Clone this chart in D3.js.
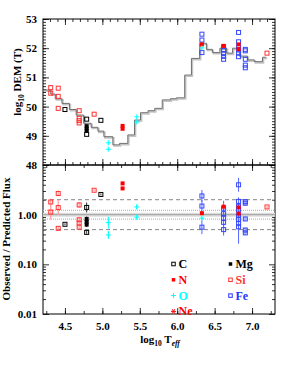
<!DOCTYPE html>
<html><head><meta charset="utf-8">
<script src="https://cdn.jsdelivr.net/npm/d3@7"></script>
<style>
body{margin:0;background:#fff;}
text{font-family:"Liberation Serif",serif;}
</style></head>
<body><svg id="c" width="289" height="372"></svg>
<script>
// ---- DATA ----
const demEdges = [4.21,4.31,4.37,4.46,4.56,4.65,4.75,4.85,4.94,5.02,5.14,5.23,5.34,5.43,5.51,5.61,5.70,5.80,5.91,5.99,6.10,6.19,6.30,6.39,6.47,6.57,6.66,6.74,6.83,6.94,7.03,7.14,7.19];
const demValues = [50.57,50.43,50.27,50.11,49.90,49.71,49.43,49.29,49.16,48.97,48.69,48.74,49.03,49.54,49.79,49.86,49.94,50.23,50.27,50.30,51.08,51.65,52.17,51.96,51.85,52.00,51.83,52.00,51.73,51.60,51.54,51.69];

// top panel: [logT, logDEM]
const siTop = [[4.31,50.65],[4.31,50.46],[4.41,50.63],[4.41,50.35],[4.41,49.94],[4.69,49.86],[4.69,49.60],[4.69,49.52],[4.69,49.44],[4.89,49.74],[7.20,51.83]];
const cTop  = [[4.50,49.90],[4.79,49.57],[4.79,49.05],[4.98,49.53]];
const mgTop = [[4.79,49.33],[4.79,49.25],[4.79,49.17]];
const nTop  = [[5.27,49.34],[5.27,49.24],[6.33,52.13],[6.62,52.08],[6.82,52.13],[6.82,51.97]];
const oTop  = [[5.08,48.76],[5.08,48.54],[5.46,49.65],[5.46,49.47],[6.33,52.01]];
const feTop = [[6.33,52.48],[6.33,52.28],[6.33,51.85],
  [6.62,52.05],[6.62,51.93],[6.62,51.82],[6.62,51.72],[6.62,51.62],
  [6.82,52.54],[6.82,52.22],[6.82,52.05],[6.82,51.94],[6.82,51.83],[6.82,51.71],
  [6.91,51.96],[6.91,51.91],[6.91,51.62],[6.91,51.42],[6.91,51.33]];

// bottom panel: [logT, observed/predicted, log10 error]
const siBot = [[4.31,1.80,0.07],[4.31,1.13,0.15],[4.41,2.67,0.06],[4.41,1.39,0.15],[4.41,0.53,0.03],
  [4.69,1.57,0.06],[4.69,0.79,0.04],[4.69,0.68,0.04],[4.69,0.56,0.03],[4.89,3.10,0.02],[7.20,1.43,0.02]];
const cBot  = [[4.50,0.64,0.02],[4.79,1.40,0.10],[4.79,0.44,0.03],[4.98,2.55,0.02]];
const mgBot = [[4.79,0.82,0.05],[4.79,0.72,0.05],[4.79,0.63,0.05]];
const nBot  = [[5.27,4.26,0.02],[5.27,3.38,0.02],[6.33,1.07,0.02],[6.62,1.45,0.02],[6.82,1.40,0.02],[6.82,1.05,0.02]];
const oBot  = [[5.08,0.69,0.12],[5.08,0.39,0.08],[5.46,1.43,0.05],[5.46,0.89,0.05],[6.33,0.85,0.03]];
const feBot = [[6.33,2.38,0.12],[6.33,1.49,0.12],[6.33,0.56,0.14],
  [6.62,1.35,0.15],[6.62,1.05,0.08],[6.62,0.85,0.08],[6.62,0.70,0.08],[6.62,0.50,0.12],
  [6.82,4.00,0.14],[6.82,1.85,0.08],[6.82,1.48,0.08],[6.82,1.24,0.08],[6.82,0.98,0.08],[6.82,0.80,0.08],[6.82,0.67,0.10],[6.82,0.57,0.34],
  [6.91,1.83,0.05],[6.91,1.70,0.05],[6.91,0.82,0.04],[6.91,0.49,0.05],[6.91,0.43,0.04]];

const xMajor = [4.5,5.0,5.5,6.0,6.5,7.0];
const xMinorTop = d3.range(43,73).map(d=>d/10);
const xMinorBot = d3.range(17,30).map(d=>d/4);
const yTopMajor = [48,49,50,51,52,53];
const yTopMinor = d3.range(480,531).map(d=>d/10);
const yBotMajor = [0.01,0.1,1,10];
const yBotLabels = ["0.01","0.10","1.00",""];
const yBotMinor = [0.02,0.03,0.04,0.05,0.06,0.07,0.08,0.09,0.2,0.3,0.4,0.5,0.6,0.7,0.8,0.9,2,3,4,5,6,7,8,9];
const refDashed = [2,0.5];
const refDotted = [1.22,0.81];

const legendItems = [
  {name:"C", col:0,row:0,color:"#000",sym:"open"},
  {name:"N", col:0,row:1,color:"#f00",sym:"fill"},
  {name:"O", col:0,row:2,color:"#0ff",sym:"plus"},
  {name:"Ne",col:0,row:3,color:"#f00",sym:"star"},
  {name:"Mg",col:1,row:0,color:"#000",sym:"fill"},
  {name:"Si",col:1,row:1,color:"#f33",sym:"open"},
  {name:"Fe",col:1,row:2,color:"#2233ff",sym:"open"}
];

// ---- LAYOUT ----
const L=43, R=275, T=19, M=165, B=314;
const FONT = "Liberation Serif";
const svg = d3.select("#c");
const x = d3.scaleLinear().domain([4.2,7.3]).range([42.5,274.5]);
const yT = d3.scaleLinear().domain([48,53]).range([M,T]);
const yB = d3.scaleLog().domain([0.01,10]).range([B,M]);

function ax(gen, tx, ty){
  const g = svg.append("g").attr("transform",`translate(${tx},${ty})`).call(gen);
  g.select(".domain").remove();
  g.selectAll("line").attr("stroke","#000").attr("stroke-width",0.8);
  g.selectAll("text").attr("font-family",FONT).attr("font-size",11).attr("font-weight","bold").attr("fill","#000");
  return g;
}
// top panel axes
ax(d3.axisBottom(x).tickValues(xMinorTop).tickSize(-3).tickFormat(""),0,M);
ax(d3.axisBottom(x).tickValues(xMajor).tickSize(-6).tickFormat(""),0,M);
ax(d3.axisTop(x).tickValues(xMinorTop).tickSize(-3).tickFormat(""),0,T);
ax(d3.axisTop(x).tickValues(xMajor).tickSize(-6).tickFormat(""),0,T);
ax(d3.axisLeft(yT).tickValues(yTopMinor).tickSize(-3).tickFormat(""),L,0);
ax(d3.axisLeft(yT).tickValues(yTopMajor).tickSize(-6).tickPadding(6).tickFormat(d3.format("d")),L,0);
ax(d3.axisRight(yT).tickValues(yTopMinor).tickSize(-3).tickFormat(""),R,0);
ax(d3.axisRight(yT).tickValues(yTopMajor).tickSize(-6).tickFormat(""),R,0);
// bottom panel axes
ax(d3.axisTop(x).tickValues(xMinorBot).tickSize(-3).tickFormat(""),0,M);
ax(d3.axisTop(x).tickValues(xMajor).tickSize(-6).tickFormat(""),0,M);
ax(d3.axisBottom(x).tickValues(xMinorBot).tickSize(-3).tickFormat(""),0,B);
ax(d3.axisBottom(x).tickValues(xMajor).tickSize(-6).tickPadding(8).tickFormat(d3.format(".1f")),0,B);
ax(d3.axisLeft(yB).tickValues(yBotMinor).tickSize(-3).tickFormat(""),L,0);
ax(d3.axisLeft(yB).tickValues(yBotMajor).tickSize(-6).tickPadding(6).tickFormat((d,i)=>yBotLabels[i]),L,0);
ax(d3.axisRight(yB).tickValues(yBotMinor).tickSize(-3).tickFormat(""),R,0);
ax(d3.axisRight(yB).tickValues(yBotMajor).tickSize(-6).tickFormat(""),R,0);

// frames
svg.append("rect").attr("x",L).attr("y",T).attr("width",R-L).attr("height",M-T).attr("fill","none").attr("stroke","#000").attr("stroke-width",1);
svg.append("rect").attr("x",L).attr("y",M).attr("width",R-L).attr("height",B-M).attr("fill","none").attr("stroke","#000").attr("stroke-width",1);

// DEM step
const demPts = demValues.map((v,i)=>[demEdges[i],v]);
demPts.push([demEdges[demEdges.length-1], demValues[demValues.length-1]]);
const stepLine = d3.line().x(d=>x(d[0])).y(d=>yT(d[1])).curve(d3.curveStepAfter);
svg.append("path").attr("d",stepLine(demPts)).attr("fill","none").attr("stroke","#c4c4c4").attr("stroke-width",1.6).attr("transform","translate(1,1.2)");
svg.append("path").attr("d",stepLine(demPts)).attr("fill","none").attr("stroke","#6e6e6e").attr("stroke-width",1);

// reference lines (bottom)
const gRef = svg.append("g");
gRef.append("line").attr("x1",L).attr("x2",R).attr("y1",yB(1)).attr("y2",yB(1)).attr("stroke","#dcdcdc").attr("stroke-width",4);
gRef.append("line").attr("x1",L).attr("x2",R).attr("y1",yB(1)).attr("y2",yB(1)).attr("stroke","#a0a0a0").attr("stroke-width",1);
refDotted.forEach(v=>gRef.append("line").attr("x1",L).attr("x2",R).attr("y1",yB(v)).attr("y2",yB(v)).attr("stroke","#bbb").attr("stroke-width",1.2).attr("stroke-dasharray","1,1"));
refDashed.forEach(v=>gRef.append("line").attr("x1",L).attr("x2",R).attr("y1",yB(v)).attr("y2",yB(v)).attr("stroke","#777").attr("stroke-width",0.9).attr("stroke-dasharray","4,3"));

// marker drawing
function marker(g, sym, cx, cy, color, s){
  s = s||4;
  if(sym==="open") g.append("rect").attr("x",cx-s/2).attr("y",cy-s/2).attr("width",s).attr("height",s).attr("fill","none").attr("stroke",color).attr("stroke-width",1);
  else if(sym==="fill") g.append("rect").attr("x",cx-s/2).attr("y",cy-s/2).attr("width",s).attr("height",s).attr("fill",color);
  else if(sym==="plus"){
    g.append("line").attr("x1",cx-2.5).attr("x2",cx+2.5).attr("y1",cy).attr("y2",cy).attr("stroke",color).attr("stroke-width",1);
    g.append("line").attr("x1",cx).attr("x2",cx).attr("y1",cy-2.5).attr("y2",cy+2.5).attr("stroke",color).attr("stroke-width",1);
  } else if(sym==="star"){
    [0,60,120].forEach(a=>{const r=a*Math.PI/180;
      g.append("line").attr("x1",cx-2.5*Math.cos(r)).attr("x2",cx+2.5*Math.cos(r)).attr("y1",cy-2.5*Math.sin(r)).attr("y2",cy+2.5*Math.sin(r)).attr("stroke",color).attr("stroke-width",1);});
  }
}
const gTop = svg.append("g");
function topSeries(data, sym, color){ data.forEach(d=>marker(gTop,sym,x(d[0]),yT(d[1]),color)); }
topSeries(cTop,"open","#000");
topSeries(mgTop,"fill","#000");
topSeries(siTop,"open","#f33");
topSeries(feTop,"open","#3346ff");
topSeries(nTop,"fill","#f00");
topSeries(oTop,"plus","#0ff");

const gBot = svg.append("g");
function botSeries(data, sym, color, ecolor, ew){
  data.forEach(d=>{
    const cx=x(d[0]);
    gBot.append("line").attr("x1",cx).attr("x2",cx)
      .attr("y1",yB(d[1]*Math.pow(10,d[2]))).attr("y2",yB(d[1]/Math.pow(10,d[2])))
      .attr("stroke",ecolor).attr("stroke-width",ew||1);
  });
  data.forEach(d=>marker(gBot,sym,x(d[0]),yB(d[1]),color));
}
botSeries(feBot.filter(d=>d[0]<6.9),"open","#3346ff","#5566ff",1);
botSeries(feBot.filter(d=>d[0]>6.9),"open","#3346ff","#aab2ff",2.5);
botSeries(siBot,"open","#f33","#ff9a9a",1.2);
botSeries(cBot,"open","#000","#333",1);
botSeries(mgBot,"fill","#000","#333",1);
botSeries(nBot,"fill","#f00","#f88",1);
botSeries(oBot,"plus","#0ff","#0ff",1);

// legend
const lg = svg.append("g");
legendItems.forEach(it=>{
  const sx = it.col===0 ? 173.5 : 230.5;
  const sy = 264 + it.row*15.8;
  marker(lg, it.sym, sx, sy, it.color, 3.5);
  lg.append("text").attr("x",sx+5).attr("y",sy+4).attr("font-size",12).attr("font-weight","bold").attr("fill",it.color).text(it.name);
});

// axis titles
const t1 = svg.append("text").attr("transform","translate(21,82) rotate(-90)").attr("text-anchor","middle").attr("font-size",11).attr("font-weight","bold");
t1.append("tspan").text("log");
t1.append("tspan").attr("font-size",7.5).attr("dy",2.5).text("10");
t1.append("tspan").attr("dy",-2.5).text(" DEM (T)");
svg.append("text").attr("transform","translate(10,239) rotate(-90)").attr("text-anchor","middle").attr("font-size",11).attr("font-weight","bold").text("Observed / Predicted Flux");
const t3 = svg.append("text").attr("x",160).attr("y",343).attr("text-anchor","middle").attr("font-size",11).attr("font-weight","bold");
t3.append("tspan").text("log");
t3.append("tspan").attr("font-size",7.5).attr("dy",2.5).text("10");
t3.append("tspan").attr("dy",-2.5).text(" T");
t3.append("tspan").attr("font-size",7.5).attr("dy",2.5).attr("font-style","italic").text("eff");
</script></body></html>
